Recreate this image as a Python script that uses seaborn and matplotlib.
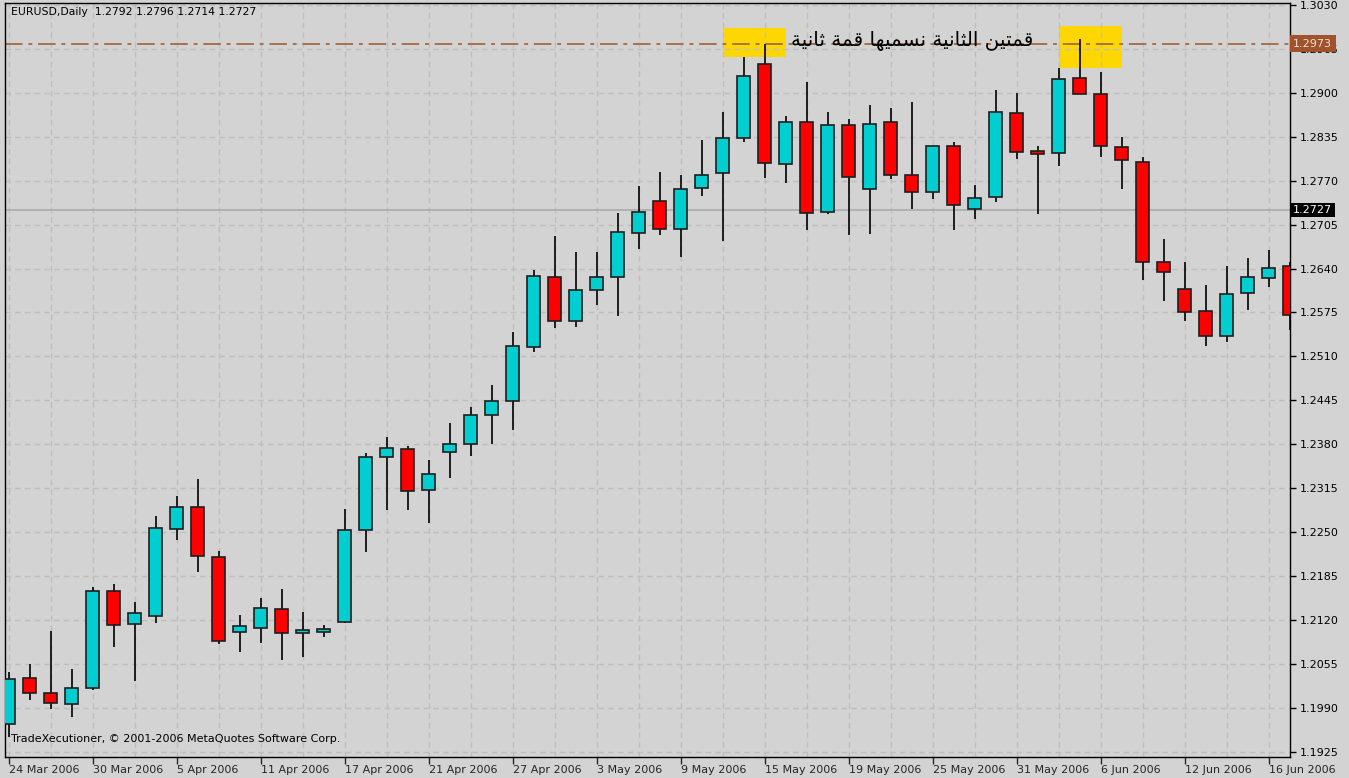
import numpy as np
import pandas as pd
import matplotlib
matplotlib.use('Agg')
import matplotlib.pyplot as plt
import matplotlib.transforms as mtransforms
from matplotlib.patches import Rectangle
import seaborn as sns

# EURUSD daily candles, 24 Mar 2006 .. 19 Jun 2006
opens = [1.1966, 1.2034, 1.2011, 1.1995, 1.2019, 1.2163, 1.2114, 1.2126, 1.2254, 1.2287,
         1.2213, 1.2102, 1.2108, 1.2136, 1.2100, 1.2102, 1.2117, 1.2253, 1.2361, 1.2373,
         1.2312, 1.2368, 1.2380, 1.2423, 1.2444, 1.2524, 1.2627, 1.2563, 1.2608, 1.2627,
         1.2693, 1.2740, 1.2698, 1.2759, 1.2782, 1.2833, 1.2942, 1.2794, 1.2857, 1.2724,
         1.2852, 1.2757, 1.2857, 1.2779, 1.2753, 1.2821, 1.2728, 1.2746, 1.2870, 1.2814,
         1.2811, 1.2922, 1.2899, 1.2820, 1.2798, 1.2649, 1.2610, 1.2577, 1.2540, 1.2604,
         1.2626, 1.2643]
highs = [1.2043, 1.2055, 1.2104, 1.2047, 1.2169, 1.2173, 1.2146, 1.2274, 1.2303, 1.2328,
         1.2222, 1.2127, 1.2152, 1.2165, 1.2131, 1.2113, 1.2284, 1.2367, 1.2391, 1.2377,
         1.2357, 1.2412, 1.2435, 1.2467, 1.2546, 1.2638, 1.2688, 1.2665, 1.2665, 1.2722,
         1.2762, 1.2783, 1.2779, 1.2830, 1.2871, 1.2953, 1.2973, 1.2866, 1.2916, 1.2871,
         1.2861, 1.2882, 1.2877, 1.2886, 1.2822, 1.2828, 1.2764, 1.2904, 1.2900, 1.2822,
         1.2937, 1.2979, 1.2931, 1.2834, 1.2805, 1.2684, 1.2649, 1.2615, 1.2643, 1.2655,
         1.2668, 1.2649]
lows = [1.1947, 1.2001, 1.1988, 1.1976, 1.2016, 1.2080, 1.2030, 1.2116, 1.2238, 1.2191,
        1.2084, 1.2072, 1.2086, 1.2061, 1.2065, 1.2095, 1.2115, 1.2220, 1.2283, 1.2283,
        1.2263, 1.2330, 1.2363, 1.2381, 1.2401, 1.2517, 1.2552, 1.2554, 1.2586, 1.2569,
        1.2669, 1.2689, 1.2657, 1.2747, 1.2681, 1.2828, 1.2774, 1.2766, 1.2697, 1.2720,
        1.2689, 1.2691, 1.2772, 1.2728, 1.2743, 1.2697, 1.2714, 1.2739, 1.2802, 1.2720,
        1.2792, 1.2898, 1.2805, 1.2757, 1.2623, 1.2592, 1.2563, 1.2525, 1.2531, 1.2578,
        1.2613, 1.2549]
closes = [1.2032, 1.2011, 1.1997, 1.2019, 1.2163, 1.2112, 1.2130, 1.2256, 1.2287, 1.2215,
          1.2089, 1.2111, 1.2138, 1.2100, 1.2105, 1.2107, 1.2253, 1.2361, 1.2375, 1.2310,
          1.2336, 1.2381, 1.2423, 1.2444, 1.2526, 1.2629, 1.2563, 1.2608, 1.2627, 1.2694,
          1.2723, 1.2698, 1.2757, 1.2779, 1.2833, 1.2925, 1.2796, 1.2857, 1.2722, 1.2852,
          1.2775, 1.2854, 1.2778, 1.2753, 1.2821, 1.2734, 1.2744, 1.2871, 1.2813, 1.2809,
          1.2920, 1.2899, 1.2821, 1.2800, 1.2649, 1.2635, 1.2575, 1.2540, 1.2602, 1.2627,
          1.2641, 1.2571]

date_labels = ['24 Mar 2006', '30 Mar 2006', '5 Apr 2006', '11 Apr 2006', '17 Apr 2006',
               '21 Apr 2006', '27 Apr 2006', '3 May 2006', '9 May 2006', '15 May 2006',
               '19 May 2006', '25 May 2006', '31 May 2006', '6 Jun 2006', '12 Jun 2006',
               '16 Jun 2006']
price_ticks = [1.1925 + 0.0065 * i for i in range(18)]
peak_level = 1.2973
bid_level = 1.2727
header = 'EURUSD,Daily  1.2792 1.2796 1.2714 1.2727'
footer = 'TradeXecutioner, \u00a9 2001-2006 MetaQuotes Software Corp.'
note = 'قمتين الثانية نسميها قمة ثانية'
# highlighted tops: (from bar, to bar, low price, high price)
boxes = [(34, 37, 1.2953, 1.2996), (50, 53, 1.2937, 1.2999)]

df = pd.DataFrame({'open': opens, 'high': highs, 'low': lows, 'close': closes})
df['bar'] = np.arange(len(df))
df['up'] = df['close'] >= df['open']

# --- Arabic shaping (presentation forms, visual order) ---
FORMS = {
    'ا': ('\uFE8D', '\uFE8E', None, None),
    'ة': ('\uFE93', '\uFE94', None, None),
    'ت': ('\uFE95', '\uFE96', '\uFE97', '\uFE98'),
    'ث': ('\uFE99', '\uFE9A', '\uFE9B', '\uFE9C'),
    'س': ('\uFEB1', '\uFEB2', '\uFEB3', '\uFEB4'),
    'ق': ('\uFED5', '\uFED6', '\uFED7', '\uFED8'),
    'ل': ('\uFEDD', '\uFEDE', '\uFEDF', '\uFEE0'),
    'م': ('\uFEE1', '\uFEE2', '\uFEE3', '\uFEE4'),
    'ن': ('\uFEE5', '\uFEE6', '\uFEE7', '\uFEE8'),
    'ه': ('\uFEE9', '\uFEEA', '\uFEEB', '\uFEEC'),
    'ي': ('\uFEF1', '\uFEF2', '\uFEF3', '\uFEF4'),
}
RIGHT_ONLY = set('اة')


def shape_word(w):
    out = []
    for i, ch in enumerate(w):
        if ch not in FORMS:
            out.append(ch)
            continue
        prev = w[i - 1] if i > 0 else None
        nxt = w[i + 1] if i < len(w) - 1 else None
        jp = prev in FORMS and prev not in RIGHT_ONLY
        jn = nxt in FORMS and ch not in RIGHT_ONLY
        iso, fin, ini, med = FORMS[ch]
        if jp and jn:
            g = med
        elif jp:
            g = fin
        elif jn:
            g = ini
        else:
            g = iso
        out.append(g)
    return ''.join(reversed(out))


def shape(text):
    return ' '.join(shape_word(w) for w in reversed(text.split()))


sns.set_style('ticks')
plt.rcParams['font.family'] = ['DejaVu Sans']

BG = '#d3d3d3'
GRID = '#bebebe'
fig = plt.figure(figsize=(13.49, 7.78), dpi=100, facecolor=BG)
ax = fig.add_axes([5 / 1349, 21 / 778, 1285 / 1349, 754 / 778])
ax.set_facecolor(BG)

up = df[df['up']]
dn = df[~df['up']]
w = 0.63

# wicks
ax.vlines(df['bar'], df['low'], df['high'], color='black', lw=1.2, zorder=3)
# bodies
for part, col in [(up, '#00ced1'), (dn, '#ff0000')]:
    bottom = np.minimum(part['open'], part['close'])
    height = np.maximum((part['close'] - part['open']).abs(), 0.00025)
    ax.bar(part['bar'], height, bottom=bottom, width=w, color=col,
           edgecolor='#1e1e1e', linewidth=1.2, zorder=4)

# yellow highlight boxes
for b0, b1, lo, hi in boxes:
    ax.add_patch(Rectangle((b0, lo), b1 - b0, hi - lo,
                           facecolor='#ffd700', edgecolor='none', zorder=0.3))

# bid line and peak level line
ax.axhline(bid_level, color='#ababab', lw=1.2, zorder=1)
ax.axhline(peak_level, color='#a9714a', lw=1.4, ls=(0, (9, 3, 2, 3)), zorder=2)

ax.set_xlim(-0.167, 61.02)
ax.set_ylim(1.1917, 1.3033)

# axes / ticks
ax.yaxis.tick_right()
ax.set_yticks(price_ticks)
ax.set_yticklabels([f'{p:.4f}' for p in price_ticks], fontsize=8)
ax.tick_params(axis='y', direction='out', length=4, width=1, pad=3, colors='black')
ax.set_xticks(np.arange(0, len(date_labels) * 4, 4))
ax.set_xticklabels(date_labels, fontsize=8, ha='left')
ax.set_xticks(np.arange(2, 62, 4), minor=True)
ax.tick_params(axis='x', which='major', direction='out', length=5, width=1, pad=1)
ax.tick_params(axis='x', which='minor', length=0)
for s in ax.spines.values():
    s.set_color('black')
    s.set_linewidth(1)

ax.set_axisbelow(True)
ax.grid(axis='y', which='major', color=GRID, ls=(0, (4, 3)), lw=1)
ax.grid(axis='x', which='both', color=GRID, ls=(0, (4, 3)), lw=1)

# right-side price tags
trans = mtransforms.blended_transform_factory(ax.transAxes, ax.transData)
ax.text(1.0025, peak_level, f'{peak_level:.4f}', transform=trans, fontsize=8,
        color='#f0e0d0', va='center', ha='left', zorder=10,
        bbox=dict(boxstyle='square,pad=0.3', fc='#a0522d', ec='none'))
ax.text(1.0025, bid_level, f'{bid_level:.4f}', transform=trans, fontsize=8,
        color='white', va='center', ha='left', zorder=10,
        bbox=dict(boxstyle='square,pad=0.2', fc='black', ec='none'))

# texts
ax.text(0.005, 0.988, header, transform=ax.transAxes, fontsize=7.8,
        va='center', ha='left', color='black')
ax.text(0.005, 0.024, footer, transform=ax.transAxes, fontsize=8,
        va='center', ha='left', color='black')
ax.text(43.05, 1.2977, shape(note), fontsize=14.3, va='center', ha='center',
        color='black', zorder=5, family=['DejaVu Sans'])

fig.savefig('out.png', dpi=100, facecolor=BG)
